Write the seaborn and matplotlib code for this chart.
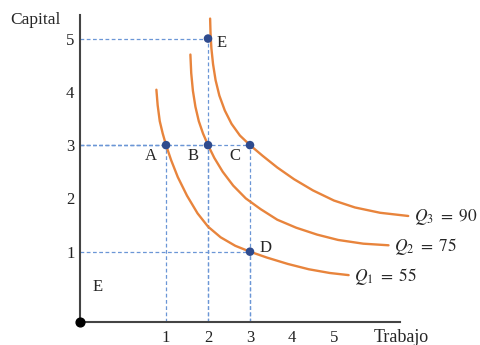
import numpy as np
import pandas as pd
import seaborn as sns
import matplotlib.pyplot as plt

# isocuantas
q1_x = [0.77, 0.80, 0.85, 0.92, 1.0, 1.12, 1.28, 1.5, 1.75, 2.0, 2.3, 2.65,
        3.0, 3.4, 3.9, 4.4, 4.9, 5.35]
q1_y = [4.04, 3.75, 3.45, 3.22, 3.0, 2.72, 2.40, 2.05, 1.72, 1.47, 1.27, 1.11,
        1.0, 0.89, 0.77, 0.67, 0.60, 0.56]
q2_x = [1.58, 1.60, 1.64, 1.70, 1.78, 1.88, 2.0, 2.15, 2.35, 2.6, 2.9, 3.25,
        3.65, 4.1, 4.6, 5.1, 5.7, 6.3]
q2_y = [4.70, 4.35, 4.02, 3.72, 3.45, 3.22, 3.0, 2.76, 2.50, 2.24, 2.0, 1.80,
        1.60, 1.45, 1.32, 1.22, 1.15, 1.12]
q3_x = [2.05, 2.06, 2.08, 2.12, 2.18, 2.27, 2.4, 2.56, 2.76, 3.0, 3.3, 3.65,
        4.05, 4.5, 5.0, 5.5, 6.1, 6.77]
q3_y = [5.375, 5.1, 4.82, 4.52, 4.22, 3.93, 3.65, 3.40, 3.18, 3.0, 2.80, 2.58,
        2.36, 2.15, 1.96, 1.83, 1.73, 1.67]
q_labels = [r"$Q_1\ =\ 55$", r"$Q_2\ =\ 75$", r"$Q_3\ =\ 90$"]

# puntos
pt_names = ["A", "B", "C", "D", "E"]
pt_x = [1, 2, 3, 3, 2]
pt_y = [3, 3, 3, 1, 5]

x_ticks = [1, 2, 3, 4, 5]
y_ticks = [1, 2, 3, 4, 5]

sns.set_theme(style="white")
plt.rcParams['font.family'] = ['Liberation Serif', 'DejaVu Serif']
plt.rcParams['mathtext.fontset'] = 'stix'

fig = plt.figure(figsize=(4.8, 3.45), dpi=100)
ax = fig.add_axes([80/480, 23/345, 400/480, 317/345])
xmin, xmax = -1.05, 8.48
ymin, ymax = -0.32, 5.63

# lineas guia punteadas
guide = dict(color="#6b96d6", lw=0.9, ls=(0, (3, 2)), zorder=1)
for x, y in zip(pt_x, pt_y):
    ax.plot([xmin, x], [y, y], **guide)
    ax.plot([x, x], [ymin, y], **guide)

# curvas
orange = "#e8843c"
curves = [(q1_x, q1_y), (q2_x, q2_y), (q3_x, q3_y)]
for (cx, cy), lab in zip(curves, q_labels):
    sns.lineplot(x=cx, y=cy, sort=False, estimator=None, color=orange,
                 lw=1.7, ax=ax, zorder=2)
    ax.annotate(lab, xy=(cx[-1], cy[-1]), xytext=(4, -1),
                textcoords="offset points", va="center", ha="left",
                fontsize=12.5)

df = pd.DataFrame({"x": pt_x, "y": pt_y, "name": pt_names})
sns.scatterplot(data=df, x="x", y="y", color="#2f4b8e", s=38,
                edgecolor="none", ax=ax, zorder=3)

offsets = {"A": (-11, -8), "B": (-11, -8), "C": (-11, -8),
           "D": (11, 3), "E": (10, -3)}
for n, x, y in zip(pt_names, pt_x, pt_y):
    dx, dy = offsets[n]
    ax.annotate(n, xy=(x, y), xytext=(dx, dy), textcoords="offset points",
                ha="center", va="center", fontsize=12)

ax.text(-0.62, 0.34, "E", ha="center", va="center", fontsize=12)

# origen
ax.scatter([xmin], [ymin], color="black", s=40, clip_on=False, zorder=4)

ax.set_xlim(xmin, xmax)
ax.set_ylim(ymin, ymax)
ax.set_xticks(x_ticks)
ax.set_yticks(y_ticks)
ax.tick_params(length=0, labelsize=12, colors="#222222")
ax.tick_params(axis="x", pad=6)
ax.tick_params(axis="y", pad=4)
ax.set_xlabel("")
ax.set_ylabel("")
sns.despine(ax=ax)
for s in ["left", "bottom"]:
    ax.spines[s].set_color("#444444")
    ax.spines[s].set_linewidth(1.5)
ax.spines["left"].set_bounds(ymin, 5.44)
ax.spines["bottom"].set_bounds(xmin, 6.57)

fig.text(10/480, 1 - 20/345, "Capital", ha="left", va="center", fontsize=12.5)
fig.text(401/480, 1 - 337/345, "Trabajo", ha="center", va="center", fontsize=13)

fig.savefig("out.png", dpi=100)
